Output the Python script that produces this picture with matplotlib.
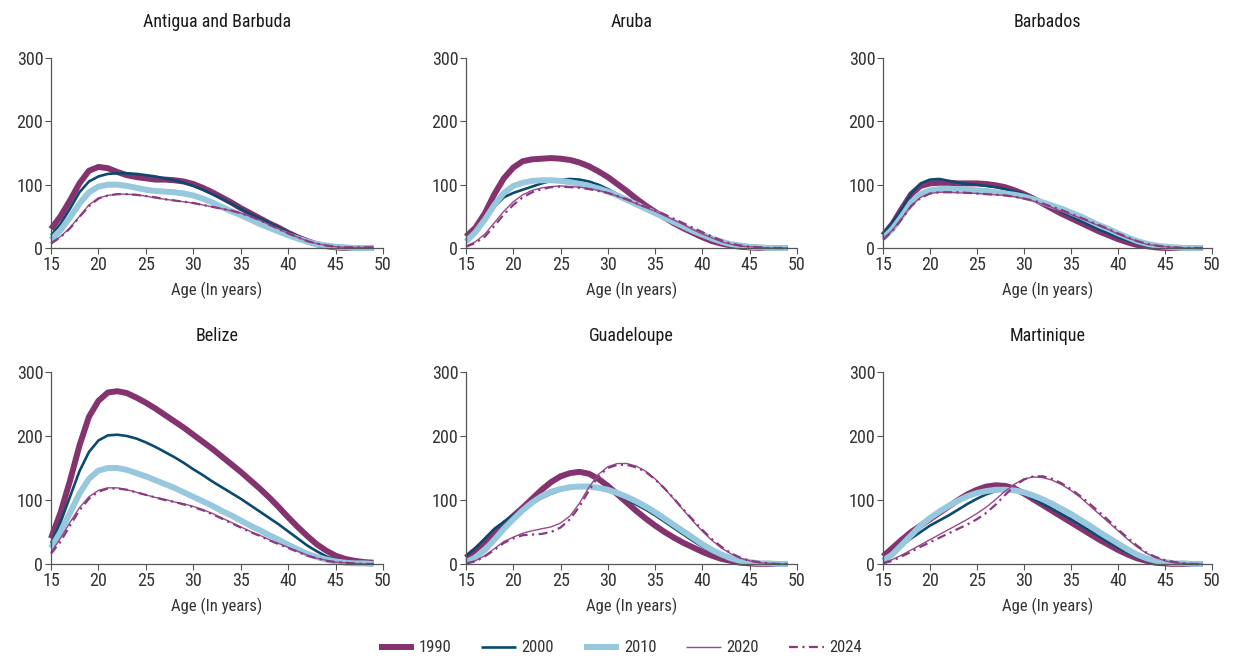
import matplotlib
matplotlib.use("Agg")
import matplotlib.pyplot as plt
import numpy as np

plt.rcParams["font.family"] = ["Roboto Condensed", "Liberation Sans Narrow", "DejaVu Sans Condensed",
                               "Roboto", "DejaVu Sans"]

ages = np.arange(15, 50)
years = ["1990", "2000", "2010", "2020", "2024"]
countries = ["Antigua and Barbuda", "Aruba", "Barbados", "Belize", "Guadeloupe", "Martinique"]

# age-specific fertility rates (births per 1,000 women), ages 15-49
antigua_1990 = [30, 50, 75, 102, 122, 128, 126, 120, 115, 112, 110, 108, 108, 107, 105, 101, 95, 88, 80, 72,
                63, 55, 47, 39, 32, 24, 17, 11, 6, 3, 1, 0, 0, 0, 0]
antigua_2000 = [20, 38, 62, 88, 105, 113, 117, 118, 118, 117, 115, 113, 110, 107, 103, 98, 92, 85, 78, 70,
                62, 54, 47, 40, 32, 25, 18, 12, 7, 4, 2, 1, 0, 0, 0]
antigua_2010 = [13, 28, 48, 70, 88, 97, 100, 100, 98, 95, 92, 90, 89, 88, 86, 83, 78, 72, 65, 58,
                52, 45, 38, 32, 26, 20, 15, 10, 6, 4, 2, 1, 0, 0, 0]
antigua_2020 = [8, 18, 32, 50, 68, 79, 83, 85, 85, 84, 82, 79, 77, 75, 73, 71, 68, 65, 62, 59,
                55, 50, 44, 37, 30, 23, 17, 11, 7, 4, 2, 1, 1, 1, 1]
antigua_2024 = [7, 17, 31, 49, 66, 78, 83, 85, 85, 84, 82, 80, 77, 75, 73, 71, 68, 65, 62, 59,
                55, 50, 44, 37, 30, 23, 17, 11, 7, 4, 2, 1, 1, 1, 1]

aruba_1990 = [18, 32, 55, 85, 110, 127, 137, 140, 141, 142, 141, 139, 135, 129, 121, 112, 101, 90, 78, 67,
              57, 48, 39, 31, 24, 17, 11, 7, 4, 2, 1, 0, 0, 0, 0]
aruba_2000 = [12, 25, 45, 65, 80, 87, 92, 97, 102, 106, 108, 109, 108, 105, 100, 93, 85, 77, 70, 63,
              56, 49, 42, 35, 28, 21, 14, 9, 5, 3, 1, 0, 0, 0, 0]
aruba_2010 = [10, 25, 45, 68, 87, 98, 103, 106, 107, 107, 106, 104, 101, 98, 94, 89, 83, 76, 69, 62,
              55, 48, 41, 34, 27, 21, 15, 10, 6, 4, 2, 1, 0, 0, 0]
aruba_2020 = [3, 10, 22, 40, 58, 73, 84, 91, 95, 97, 98, 97, 96, 94, 91, 87, 82, 76, 70, 64,
              58, 51, 44, 37, 29, 22, 16, 10, 6, 3, 2, 1, 0, 0, 0]
aruba_2024 = [2, 8, 18, 35, 53, 68, 80, 88, 93, 96, 97, 96, 95, 93, 90, 87, 82, 77, 71, 65,
              60, 53, 46, 39, 32, 25, 18, 12, 7, 4, 2, 1, 0, 0, 0]

barbados_1990 = [20, 38, 62, 85, 98, 102, 103, 103, 102, 102, 102, 101, 99, 96, 91, 85, 78, 70, 62, 54,
                 47, 40, 33, 26, 20, 14, 9, 5, 3, 1, 0, 0, 0, 0, 0]
barbados_2000 = [22, 40, 62, 86, 102, 108, 109, 106, 103, 101, 100, 98, 96, 93, 89, 85, 80, 73, 65, 57,
                 50, 43, 36, 29, 23, 17, 12, 7, 4, 2, 1, 0, 0, 0, 0]
barbados_2010 = [15, 30, 50, 72, 85, 91, 93, 93, 93, 92, 91, 90, 88, 86, 84, 81, 77, 72, 67, 62,
                 56, 50, 43, 36, 30, 23, 17, 11, 7, 4, 2, 1, 0, 0, 0]
barbados_2020 = [14, 28, 47, 67, 80, 86, 88, 88, 87, 87, 86, 85, 84, 83, 81, 78, 74, 69, 64, 58,
                 53, 47, 41, 35, 29, 22, 16, 11, 6, 4, 2, 1, 0, 0, 0]
barbados_2024 = [13, 27, 46, 66, 79, 86, 88, 88, 88, 87, 86, 85, 84, 83, 81, 78, 75, 70, 65, 60,
                 54, 48, 42, 36, 30, 23, 17, 11, 7, 4, 2, 1, 0, 0, 0]

belize_1990 = [40, 80, 130, 185, 230, 255, 268, 270, 267, 260, 252, 243, 233, 223, 213, 202, 191, 180, 168, 156,
               144, 131, 118, 104, 89, 73, 58, 44, 31, 21, 13, 8, 5, 3, 2]
belize_2000 = [32, 65, 105, 145, 175, 193, 201, 202, 200, 196, 190, 183, 175, 167, 158, 148, 139, 129, 120, 111,
               102, 92, 82, 72, 62, 51, 40, 29, 20, 12, 7, 4, 2, 1, 1]
belize_2010 = [25, 50, 80, 110, 133, 146, 150, 150, 147, 142, 137, 131, 125, 119, 112, 105, 98, 91, 83, 76,
               68, 60, 53, 45, 38, 30, 23, 16, 11, 7, 4, 2, 1, 1, 0]
belize_2020 = [18, 40, 65, 88, 105, 115, 119, 119, 116, 112, 108, 104, 101, 97, 94, 90, 85, 79, 72, 65,
               58, 51, 45, 38, 32, 26, 20, 14, 9, 6, 3, 2, 1, 0, 0]
belize_2024 = [16, 35, 60, 84, 102, 113, 118, 118, 116, 112, 108, 104, 100, 97, 93, 89, 84, 78, 71, 64,
               57, 50, 44, 37, 31, 25, 19, 13, 9, 5, 3, 2, 1, 0, 0]

guadeloupe_1990 = [10, 22, 35, 50, 62, 75, 88, 102, 116, 128, 137, 142, 144, 141, 133, 122, 109, 96, 83, 71,
                   60, 50, 41, 33, 26, 19, 13, 8, 5, 2, 1, 0, 0, 0, 0]
guadeloupe_2000 = [12, 25, 40, 55, 66, 76, 86, 95, 103, 110, 115, 118, 120, 120, 118, 114, 108, 101, 93, 85,
                   76, 66, 56, 46, 36, 27, 19, 12, 7, 4, 2, 1, 0, 0, 0]
guadeloupe_2010 = [3, 10, 22, 38, 55, 70, 84, 96, 106, 113, 117, 120, 121, 121, 119, 116, 111, 105, 98, 90,
                   81, 71, 61, 51, 41, 31, 22, 15, 9, 5, 3, 1, 1, 0, 0]
guadeloupe_2020 = [1, 5, 13, 24, 35, 42, 48, 52, 55, 58, 64, 75, 95, 120, 140, 152, 157, 157, 153, 145,
                   133, 118, 101, 84, 67, 51, 37, 25, 16, 9, 5, 2, 1, 0, 0]
guadeloupe_2024 = [1, 4, 12, 22, 33, 40, 45, 46, 47, 50, 57, 70, 90, 115, 137, 150, 155, 155, 151, 144,
                   132, 118, 102, 85, 69, 53, 39, 27, 17, 10, 5, 3, 1, 0, 0]

martinique_1990 = [12, 25, 38, 50, 60, 70, 80, 90, 100, 109, 116, 121, 123, 122, 118, 110, 101, 92, 83, 74,
                   65, 56, 47, 38, 30, 22, 15, 9, 5, 2, 1, 0, 0, 0, 0]
martinique_2000 = [7, 17, 29, 40, 50, 60, 68, 76, 85, 94, 102, 109, 114, 116, 114, 109, 102, 94, 86, 78,
                   70, 61, 52, 43, 34, 26, 18, 11, 6, 3, 1, 0, 0, 0, 0]
martinique_2010 = [5, 15, 30, 45, 60, 72, 82, 91, 99, 106, 111, 114, 116, 116, 115, 112, 107, 101, 94, 86,
                   78, 69, 60, 50, 41, 32, 23, 15, 9, 5, 3, 1, 1, 0, 0]
martinique_2020 = [2, 7, 14, 22, 30, 38, 46, 54, 62, 70, 79, 89, 101, 114, 125, 133, 136, 135, 131, 124,
                   115, 104, 91, 78, 65, 52, 39, 27, 17, 10, 5, 2, 1, 0, 0]
martinique_2024 = [1, 5, 12, 19, 27, 34, 41, 48, 55, 62, 70, 80, 93, 108, 122, 132, 137, 137, 133, 126,
                   117, 106, 94, 81, 68, 54, 41, 29, 18, 11, 6, 3, 1, 0, 0]

data = {
    "Antigua and Barbuda": [antigua_1990, antigua_2000, antigua_2010, antigua_2020, antigua_2024],
    "Aruba": [aruba_1990, aruba_2000, aruba_2010, aruba_2020, aruba_2024],
    "Barbados": [barbados_1990, barbados_2000, barbados_2010, barbados_2020, barbados_2024],
    "Belize": [belize_1990, belize_2000, belize_2010, belize_2020, belize_2024],
    "Guadeloupe": [guadeloupe_1990, guadeloupe_2000, guadeloupe_2010, guadeloupe_2020, guadeloupe_2024],
    "Martinique": [martinique_1990, martinique_2000, martinique_2010, martinique_2020, martinique_2024],
}

styles = [
    dict(color="#84336f", lw=4.3, ls="-"),
    dict(color="#0b4a6e", lw=1.9, ls="-"),
    dict(color="#97c8dd", lw=4.3, ls="-"),
    dict(color="#9a4a8c", lw=1.0, ls="-"),
    dict(color="#8a3a7e", lw=1.6, ls=(0, (4, 2, 1, 2))),
]

W, H = 1237, 659
fig = plt.figure(figsize=(W / 100, H / 100), dpi=100)

col_x = [(51, 383), (466, 797), (883, 1212)]
row_y = [(58, 248), (372, 564)]

handles = []
for i, name in enumerate(countries):
    r, c = divmod(i, 3)
    x0, x1 = col_x[c]
    ytop, ybot = row_y[r]
    ax = fig.add_axes([x0 / W, 1 - ybot / H, (x1 - x0) / W, (ybot - ytop) / H])
    for series, st in zip(data[name], styles):
        (ln,) = ax.plot(ages, series, color=st["color"], lw=st["lw"], linestyle=st["ls"],
                        solid_capstyle="butt", clip_on=False)
        if i == 0:
            handles.append(ln)
    ax.set_xlim(15, 50)
    ax.set_ylim(0, 300)
    ax.set_xticks(range(15, 51, 5))
    ax.set_yticks([0, 100, 200, 300])
    for side in ["top", "right"]:
        ax.spines[side].set_visible(False)
    for side in ["left", "bottom"]:
        ax.spines[side].set_color("#555555")
        ax.spines[side].set_linewidth(0.9)
    ax.tick_params(axis="both", colors="#555555", labelcolor="#333333", labelsize=13,
                   length=4, width=0.8, pad=1.5)
    ax.set_title(name, fontsize=13, color="#1a1a1a", pad=22)
    ax.set_xlabel("Age (In years)", fontsize=12, color="#333333", labelpad=6)

fig.legend(handles, years, loc="center", bbox_to_anchor=(620 / W, 1 - 648 / H), ncol=5,
           frameon=False, fontsize=12, handlelength=2.1, columnspacing=1.8, handletextpad=0.3,
           labelcolor="#333333")

fig.savefig("out.png", dpi=100)
